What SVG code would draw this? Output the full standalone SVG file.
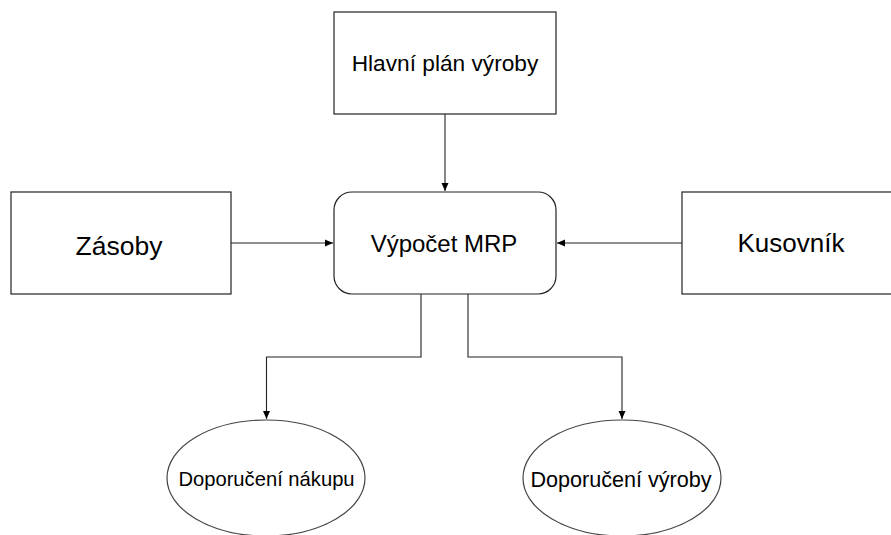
<svg xmlns="http://www.w3.org/2000/svg" width="891" height="535" viewBox="0 0 891 535">
  <defs>
    <marker id="arrow" viewBox="0 0 8 8" refX="8" refY="4" markerWidth="8" markerHeight="8" markerUnits="userSpaceOnUse" orient="auto">
      <path d="M0,0.5 L8,4 L0,7.5 Z" fill="#000"/>
    </marker>
    <style>
      .box { fill: #fff; stroke: #222; stroke-width: 1.2; }
      .oval { fill: #fff; stroke: #444; stroke-width: 1.2; }
      .label { font-family: "Liberation Sans", Arial, sans-serif; fill: #000; text-anchor: middle; }
      .edge { fill: none; stroke: #222; stroke-width: 1.1; marker-end: url(#arrow); }
    </style>
  </defs>
  <rect width="891" height="535" fill="#fff"/>

  <g id="connectors">
    <path class="edge" d="M445,114 V191"/>
    <path class="edge" d="M231,243 H333"/>
    <path class="edge" d="M682,243 H557"/>
    <path class="edge" d="M421,294 V357 H266.5 V419"/>
    <path class="edge" d="M468,294 V357 H622 V419"/>
  </g>

  <g id="node-hlavni-plan">
    <rect class="box" x="334" y="12" width="222" height="102"/>
    <text class="label" x="445" y="71" font-size="22.7">Hlavní plán výroby</text>
  </g>

  <g id="node-vypocet-mrp">
    <rect class="box" x="334" y="192" width="222" height="102" rx="18" ry="18"/>
    <text class="label" x="444" y="252" font-size="24">Výpočet MRP</text>
  </g>

  <g id="node-zasoby">
    <rect class="box" x="11" y="192" width="220" height="102"/>
    <text class="label" x="119" y="255" font-size="26.5">Zásoby</text>
  </g>

  <g id="node-kusovnik">
    <rect class="box" x="682" y="192" width="220" height="102"/>
    <text class="label" x="791" y="252" font-size="26">Kusovník</text>
  </g>

  <g id="node-doporuceni-nakupu">
    <ellipse class="oval" cx="266" cy="478" rx="99" ry="58"/>
    <text class="label" x="266.5" y="486" font-size="20.2">Doporučení nákupu</text>
  </g>

  <g id="node-doporuceni-vyroby">
    <ellipse class="oval" cx="622" cy="478" rx="99" ry="58"/>
    <text class="label" x="621" y="487" font-size="21.6">Doporučení výroby</text>
  </g>
</svg>
